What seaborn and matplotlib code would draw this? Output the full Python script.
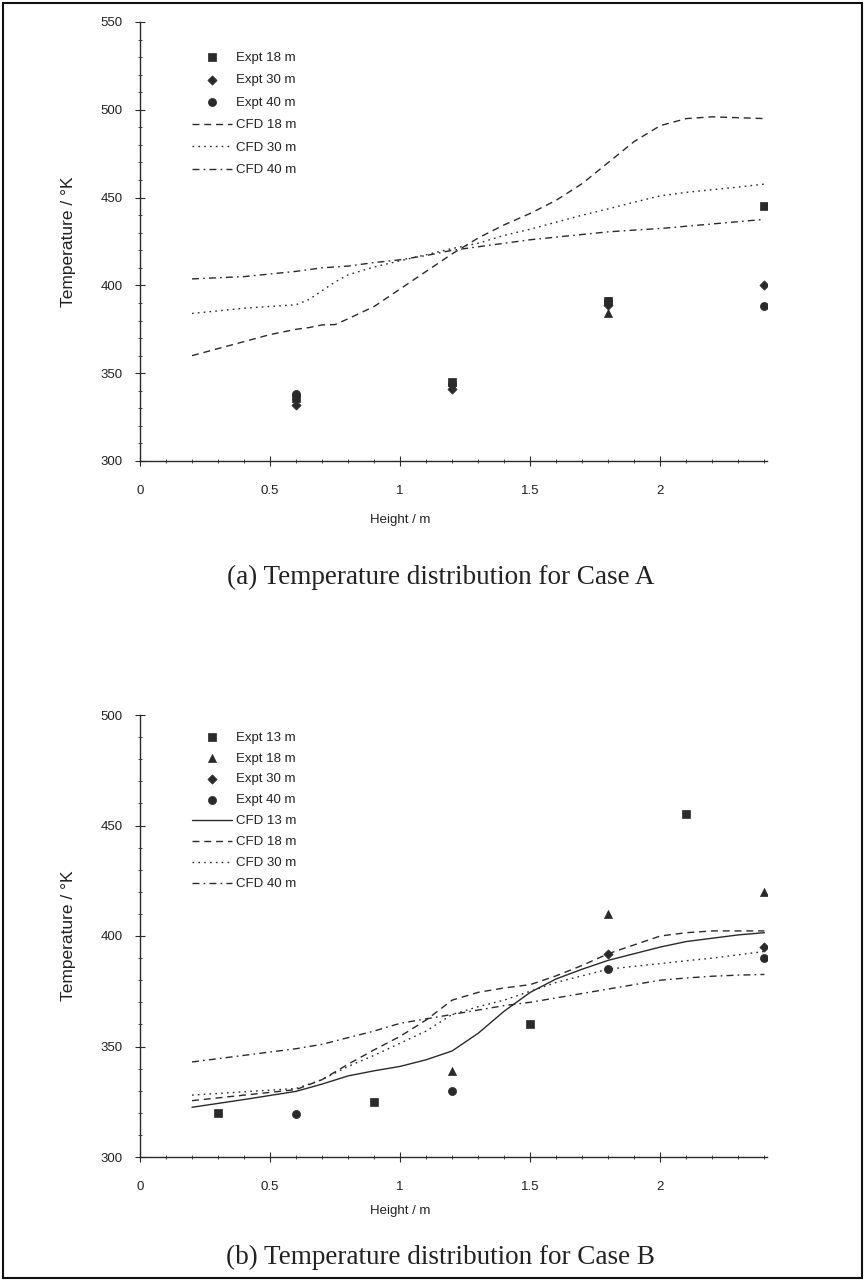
import numpy as np
import pandas as pd
import matplotlib
matplotlib.use("Agg")
import matplotlib.pyplot as plt
from matplotlib.ticker import MultipleLocator, FuncFormatter
import seaborn as sns

sns.set_theme(style="white")
plt.rcParams['font.family'] = ['Liberation Sans', 'DejaVu Sans']

# ---------------- Case A data ----------------
a_cfd_x = [0.2, 0.4, 0.5, 0.6, 0.65, 0.7, 0.75, 0.8, 0.9, 1.0, 1.1, 1.2, 1.3, 1.4, 1.5,
           1.6, 1.7, 1.8, 1.9, 2.0, 2.1, 2.2, 2.3, 2.4]
a_cfd18 = [360, 368, 372, 375, 376, 377.5, 377.7, 381, 388, 398, 408, 418, 427, 434.5, 441,
           448.5, 458, 470, 482, 491, 495, 496, 495.5, 495]
a_cfd30 = [384, 387, 388, 389, 392, 397, 402, 406, 410.5, 414, 417.5, 421, 424, 428.5, 432,
           436, 440, 443.6, 447.4, 451, 453, 454.5, 456, 457.7]
a_cfd40 = [403.7, 405, 406.5, 408, 409, 410, 410.5, 411, 413, 414.6, 417, 420, 422, 424, 426,
           427.5, 429, 430.5, 431.5, 432.4, 433.7, 435, 436.3, 437.6]

a_expt_x = [0.6, 1.2, 1.8, 2.4]
a_expt18 = [336, 345, 391, 445]
a_expt30 = [332, 341, 389, 400]
a_expt40 = [338, 344, 391, 388]
a_tri_x = [1.8]
a_tri_y = [384.5]

# ---------------- Case B data ----------------
b_cfd_x = [0.2, 0.4, 0.6, 0.7, 0.8, 0.9, 1.0, 1.1, 1.2, 1.3, 1.4, 1.5,
           1.6, 1.7, 1.8, 1.9, 2.0, 2.1, 2.2, 2.3, 2.4]
b_cfd13 = [322.5, 326, 329.7, 333, 336.7, 339, 341, 344, 348, 356, 366, 374.5,
           380.6, 385, 389, 392, 395, 397.5, 399, 400.5, 401.5]
b_cfd18 = [325.5, 328, 330.5, 335, 342, 348.5, 354.6, 362, 371, 374.5, 376.5, 378,
           382, 386.7, 392, 396, 400, 401.5, 402.3, 402.3, 402.3]
b_cfd30 = [328, 329.5, 331, 335, 341, 346, 351.5, 357, 364.5, 368, 371, 375,
           379, 382, 385, 386.3, 387.5, 388.8, 390, 391.5, 393]
b_cfd40 = [343, 346, 349, 351, 354, 357, 360.5, 362.5, 364.5, 366.5, 368.5, 370,
           372, 374, 376, 378, 380, 381, 381.8, 382.3, 382.6]

b_expt13_x = [0.3, 0.9, 1.5, 2.1]
b_expt13 = [320, 325, 360, 455]
b_expt18_x = [1.2, 1.8, 2.4]
b_expt18 = [339, 410, 420]
b_expt30_x = [1.8, 2.4]
b_expt30 = [392, 395]
b_expt40_x = [0.6, 1.2, 1.8, 2.4]
b_expt40 = [319.5, 329.7, 385, 390]

caption_a = "(a) Temperature distribution for Case A"
caption_b = "(b) Temperature distribution for Case B"
xlabel = "Height / m"
ylabel = "Temperature / \u00b0K"

INK = "#2a2a2a"
DASH = (0, (5, 3.5))
DOT = (0, (1.2, 3))
DASHDOT = (0, (5, 3, 1.2, 3))

fig = plt.figure(figsize=(8.65, 12.81), dpi=100)
fig.patch.set_facecolor("white")

axA = fig.add_axes([140 / 865, 1 - 461 / 1281, 627 / 865, 439 / 1281])
axB = fig.add_axes([140 / 865, 1 - 1157 / 1281, 627 / 865, 442 / 1281])


def scatter(ax, x, y, marker, label, size):
    sns.scatterplot(x=x, y=y, ax=ax, marker=marker, s=size, color=INK,
                    edgecolor=INK, linewidth=0.5, label=label, zorder=4)


def line(ax, x, y, ls, label):
    sns.lineplot(x=x, y=y, ax=ax, color=INK, linewidth=1.0, linestyle=ls,
                 label=label, zorder=3)


# Case A
scatter(axA, a_expt_x, a_expt18, "s", "Expt 18 m", 30)
scatter(axA, a_expt_x, a_expt30, "D", "Expt 30 m", 22)
scatter(axA, a_expt_x, a_expt40, "o", "Expt 40 m", 34)
sns.scatterplot(x=a_tri_x, y=a_tri_y, ax=axA, marker="^", s=34, color=INK,
                edgecolor=INK, linewidth=0.5, legend=False, zorder=4)
line(axA, a_cfd_x, a_cfd18, DASH, "CFD 18 m")
line(axA, a_cfd_x, a_cfd30, DOT, "CFD 30 m")
line(axA, a_cfd_x, a_cfd40, DASHDOT, "CFD 40 m")

# Case B
scatter(axB, b_expt13_x, b_expt13, "s", "Expt 13 m", 30)
scatter(axB, b_expt18_x, b_expt18, "^", "Expt 18 m", 34)
scatter(axB, b_expt30_x, b_expt30, "D", "Expt 30 m", 22)
scatter(axB, b_expt40_x, b_expt40, "o", "Expt 40 m", 34)
line(axB, b_cfd_x, b_cfd13, "-", "CFD 13 m")
line(axB, b_cfd_x, b_cfd18, DASH, "CFD 18 m")
line(axB, b_cfd_x, b_cfd30, DOT, "CFD 30 m")
line(axB, b_cfd_x, b_cfd40, DASHDOT, "CFD 40 m")

for ax, ylim, legtop, lsp in [(axA, (300, 550), 0.945, 0.78), (axB, (300, 500), 0.975, 0.66)]:
    ax.set_xlim(0, 2.41)
    ax.set_ylim(*ylim)
    ax.set_facecolor("white")
    ax.grid(False)
    for s in ["top", "right"]:
        ax.spines[s].set_visible(False)
    for s in ["left", "bottom"]:
        ax.spines[s].set_color(INK)
        ax.spines[s].set_linewidth(1.0)
    ax.xaxis.set_major_locator(MultipleLocator(0.5))
    ax.xaxis.set_minor_locator(MultipleLocator(0.1))
    ax.yaxis.set_major_locator(MultipleLocator(50))
    ax.yaxis.set_minor_locator(MultipleLocator(10))
    ax.xaxis.set_major_formatter(FuncFormatter(lambda v, p: f"{v:g}"))
    ax.tick_params(axis="both", which="major", direction="inout", length=7, width=0.8,
                   color=INK, labelsize=9.5, labelcolor="#222222",
                   left=True, bottom=True)
    ax.tick_params(axis="x", which="major", pad=14)
    ax.tick_params(axis="y", which="major", pad=9)
    ax.tick_params(axis="both", which="minor", direction="inout", length=3.5, width=0.6,
                   color=INK, left=True, bottom=True)
    ax.set_xlabel(xlabel, fontsize=9.5, color="#222222", labelpad=10)
    ax.xaxis.set_label_coords(260 / 627, -0.12 if ax is axA else -0.108)
    ax.set_ylabel(ylabel, fontsize=12.5, color="#222222", labelpad=18)
    leg = ax.legend(loc="upper left", bbox_to_anchor=(0.075, legtop), frameon=False,
                    fontsize=9.5, handlelength=3.0, handletextpad=0.3,
                    labelspacing=lsp, borderaxespad=0)
    for t in leg.get_texts():
        t.set_color("#222222")

fig.text(441 / 865, 1 - 577 / 1281, caption_a, family=["Liberation Serif", "DejaVu Serif"],
         fontsize=19.5, ha="center", va="center", color="#222222")
fig.text(441 / 865, 1 - 1257 / 1281, caption_b, family=["Liberation Serif", "DejaVu Serif"],
         fontsize=19.5, ha="center", va="center", color="#222222")

# outer frame of the page
fig.add_artist(plt.Rectangle((0.003, 0.002), 0.994, 0.996, transform=fig.transFigure,
                             fill=False, edgecolor="#111111", linewidth=1.5))

fig.savefig("out.png", dpi=100, facecolor="white")
